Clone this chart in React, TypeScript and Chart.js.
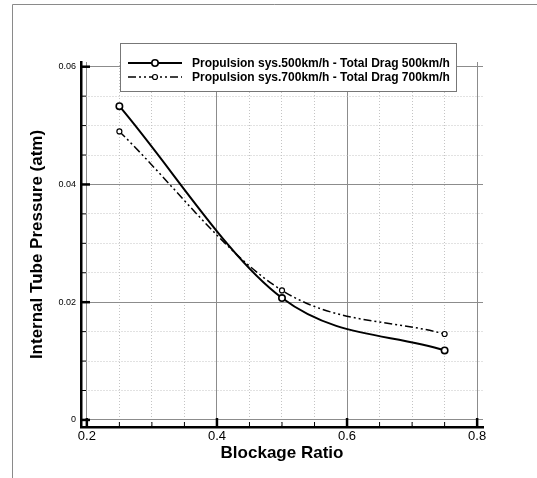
import React, { useEffect, useRef } from "react";
import { Chart, registerables } from "chart.js";

Chart.register(...registerables);

const blockageRatio = [0.25, 0.5, 0.75];
const pressure500 = [0.0533, 0.0207, 0.0118];
const pressure700 = [0.049, 0.022, 0.0146];
const seriesLabels = [
  "Propulsion sys.500km/h - Total Drag 500km/h",
  "Propulsion sys.700km/h - Total Drag 700km/h",
];
const xTickLabels = [0.2, 0.4, 0.6, 0.8];
const yTickLabels = [0, 0.02, 0.04, 0.06];

const FONT = "'Liberation Sans', Arial, sans-serif";

const isMajor = (v: number, step: number) =>
  Math.abs(v / step - Math.round(v / step)) < 1e-6;

const framePlugin = {
  id: "frame",
  beforeDraw(chart: any) {
    const ctx = chart.ctx;
    ctx.save();
    ctx.strokeStyle = "#8a8a8a";
    ctx.lineWidth = 1;
    ctx.beginPath();
    ctx.moveTo(12.5, 478);
    ctx.lineTo(12.5, 4.5);
    ctx.lineTo(537, 4.5);
    ctx.stroke();
    ctx.restore();
  },
};

const innerTicksPlugin = {
  id: "innerTicks",
  afterDatasetsDraw(chart: any) {
    const ctx = chart.ctx;
    const xs = chart.scales.x;
    const ys = chart.scales.y;
    const { left, bottom } = chart.chartArea;
    ctx.save();
    ctx.strokeStyle = "#000";
    xs.ticks.forEach((t: any) => {
      const major = isMajor(t.value, 0.2);
      const px = xs.getPixelForValue(t.value);
      ctx.lineWidth = major ? 2.5 : 1;
      ctx.beginPath();
      ctx.moveTo(px, bottom);
      ctx.lineTo(px, bottom - (major ? 9 : 5));
      ctx.stroke();
    });
    ys.ticks.forEach((t: any) => {
      const major = isMajor(t.value, 0.02);
      const py = ys.getPixelForValue(t.value);
      ctx.lineWidth = major ? 2.5 : 1;
      ctx.beginPath();
      ctx.moveTo(left, py);
      ctx.lineTo(left + (major ? 9 : 5), py);
      ctx.stroke();
    });
    ctx.restore();
  },
};

const legendBoxPlugin = {
  id: "legendBox",
  afterDraw(chart: any) {
    const ctx = chart.ctx;
    ctx.save();
    ctx.fillStyle = "#fff";
    ctx.strokeStyle = "#777";
    ctx.lineWidth = 1;
    ctx.fillRect(120.5, 43.5, 336, 48);
    ctx.strokeRect(120.5, 43.5, 336, 48);
    const rows = [63, 77];
    chart.data.datasets.forEach((ds: any, i: number) => {
      const y = rows[i];
      ctx.strokeStyle = "#000";
      ctx.lineWidth = ds.borderWidth;
      ctx.setLineDash(ds.borderDash || []);
      ctx.beginPath();
      ctx.moveTo(128, y);
      ctx.lineTo(182, y);
      ctx.stroke();
      ctx.setLineDash([]);
      ctx.beginPath();
      ctx.arc(155, y, ds.pointRadius, 0, Math.PI * 2);
      ctx.fillStyle = "#fff";
      ctx.fill();
      ctx.lineWidth = ds.pointBorderWidth;
      ctx.stroke();
      ctx.fillStyle = "#000";
      ctx.font = `bold 12px ${FONT}`;
      ctx.textBaseline = "middle";
      ctx.textAlign = "left";
      ctx.fillText(ds.label, 192, y + 0.5);
    });
    ctx.restore();
  },
};

export default function App() {
  const ref = useRef<HTMLCanvasElement>(null);
  useEffect(() => {
    if (!ref.current) return;
    const chart = new Chart(ref.current, {
      type: "line",
      data: {
        datasets: [
          {
            label: seriesLabels[0],
            data: blockageRatio.map((x, i) => ({ x, y: pressure500[i] })),
            borderColor: "#000",
            borderWidth: 2,
            pointRadius: 3.2,
            pointBorderWidth: 1.6,
            pointBackgroundColor: "#fff",
            pointBorderColor: "#000",
            cubicInterpolationMode: "monotone",
            fill: false,
          },
          {
            label: seriesLabels[1],
            data: blockageRatio.map((x, i) => ({ x, y: pressure700[i] })),
            borderColor: "#000",
            borderWidth: 1.5,
            borderDash: [8, 3, 2, 3, 2, 3],
            pointRadius: 2.5,
            pointBorderWidth: 1.2,
            pointBackgroundColor: "#fff",
            pointBorderColor: "#000",
            cubicInterpolationMode: "monotone",
            fill: false,
          },
        ] as any,
      },
      options: {
        responsive: false,
        animation: false,
        devicePixelRatio: 1,
        layout: { padding: { left: 0, top: 62, right: 54, bottom: 0 } },
        plugins: {
          legend: { display: false },
          tooltip: { enabled: false },
        },
        scales: {
          x: {
            type: "linear",
            min: 0.191,
            max: 0.809,
            afterFit: (s: any) => {
              s.height = 51;
            },
            ticks: {
              stepSize: 0.05,
              includeBounds: false,
              autoSkip: false,
              maxRotation: 0,
              padding: 2,
              color: "#000",
              font: { size: 13, family: FONT },
              callback: (v: any) => {
                const n = Number(v);
                const hit = xTickLabels.find((t) => Math.abs(t - n) < 1e-6);
                return hit !== undefined ? String(hit) : "";
              },
            },
            grid: {
              drawTicks: false,
              color: (c: any) =>
                c.tick && isMajor(c.tick.value, 0.2) ? "#8c8c8c" : "#c4c4c4",
              lineWidth: 1,
            },
            border: {
              display: true,
              color: "#000",
              width: 2.5,
              dash: (c: any) =>
                c.tick && isMajor(c.tick.value, 0.2) ? [] : [1, 2],
            },
            title: {
              display: true,
              text: "Blockage Ratio",
              color: "#000",
              font: { size: 17, weight: "bold", family: FONT },
              padding: { top: 0, bottom: 14 },
            },
          },
          y: {
            type: "linear",
            min: -0.0012,
            max: 0.0608,
            afterFit: (s: any) => {
              s.width = 81;
            },
            ticks: {
              stepSize: 0.005,
              includeBounds: false,
              autoSkip: false,
              padding: 5,
              color: "#000",
              font: { size: 9, family: FONT },
              callback: (v: any) => {
                const n = Number(v);
                const hit = yTickLabels.find((t) => Math.abs(t - n) < 1e-6);
                return hit !== undefined ? String(hit) : "";
              },
            },
            grid: {
              drawTicks: false,
              color: (c: any) =>
                c.tick && isMajor(c.tick.value, 0.02) ? "#8c8c8c" : "#c4c4c4",
              lineWidth: 1,
            },
            border: {
              display: true,
              color: "#000",
              width: 2.5,
              dash: (c: any) =>
                c.tick && isMajor(c.tick.value, 0.02) ? [] : [1, 2],
            },
            title: {
              display: true,
              text: "Internal Tube Pressure (atm)",
              color: "#000",
              font: { size: 17, weight: "bold", family: FONT },
              padding: { top: 27, bottom: 0 },
            },
          },
        },
      } as any,
      plugins: [framePlugin, innerTicksPlugin, legendBoxPlugin],
    });
    return () => chart.destroy();
  }, []);

  return (
    <div style={{ position: "fixed", left: 0, top: 0, width: 537, height: 478, background: "#fff" }}>
      <canvas ref={ref} width={537} height={478} style={{ display: "block" }} />
    </div>
  );
}
